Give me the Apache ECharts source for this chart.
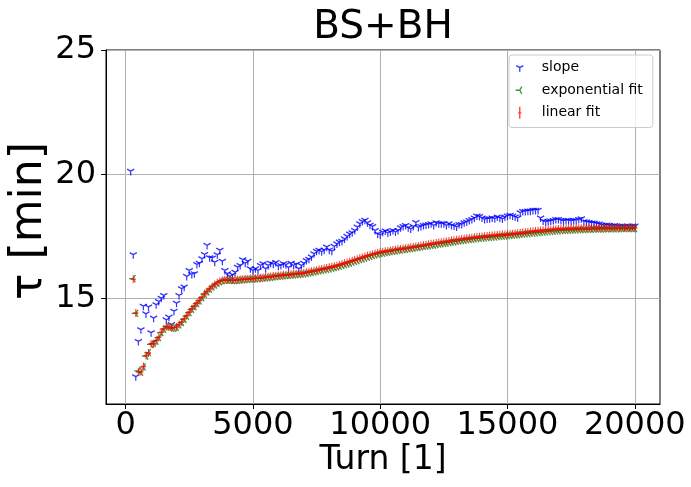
<!DOCTYPE html>
<html>
<head>
<meta charset="utf-8">
<script src="https://cdn.jsdelivr.net/npm/echarts@6.0.0/dist/echarts.min.js"></script>
<style>
  html, body { margin: 0; padding: 0; background: #fff; }
  #chart { width: 691px; height: 487px; }
</style>
</head>
<body>
<div id="chart"></div>
<script>
// turns: 200, 300, ... 20000 (one sample every 100 turns)
var turnStart = 200;
var turnStep = 100;

var slope = [
    20.12, 16.76, 11.85, 13.27, 13.74, 14.69, 14.38, 14.66,
    13.62, 14.21, 14.75, 14.88, 15.01, 15.12, 14.14, 14.25, 13.95, 14.49,
    14.81, 15.12, 15.39, 15.46, 15.89, 16.13, 15.97, 16.0, 16.37, 16.42,
    16.6, 16.77, 17.14, 16.64, 16.63, 16.46, 16.76, 16.94, 16.5, 16.13,
    16.0, 15.89, 15.95, 16.06, 16.26, 16.33, 16.56, 16.42, 16.5, 16.2,
    16.13, 16.2, 16.13, 16.33, 16.4, 16.2, 16.33, 16.42, 16.38, 16.45,
    16.3, 16.33, 16.4, 16.36, 16.25, 16.42, 16.33, 16.38, 16.2, 16.33,
    16.42, 16.53, 16.58, 16.67, 16.8, 16.9, 16.94, 16.88, 16.95, 17.07,
    16.95, 16.9, 17.1, 17.2, 17.27, 17.3, 17.4, 17.5, 17.6, 17.65,
    17.74, 17.88, 18.01, 18.1, 18.15, 18.05, 17.95, 17.9, 17.74, 17.6,
    17.56, 17.67, 17.72, 17.64, 17.68, 17.74, 17.68, 17.74, 17.85, 17.9,
    17.94, 17.85, 17.8, 17.9, 18.06, 17.86, 17.9, 17.94, 17.96, 17.98,
    18.01, 17.94, 18.05, 18.01, 18.01, 18.01, 17.94, 18.01, 17.94, 17.92,
    17.88, 17.98, 17.98, 18.05, 18.08, 18.14, 18.18, 18.24, 18.32, 18.3,
    18.24, 18.18, 18.2, 18.21, 18.24, 18.21, 18.28, 18.24, 18.2, 18.28,
    18.32, 18.35, 18.32, 18.28, 18.24, 18.45, 18.5, 18.5, 18.52, 18.52,
    18.55, 18.55, 18.55, 18.24, 18.12, 18.08, 18.1, 18.12, 18.14, 18.18,
    18.18, 18.14, 18.12, 18.14, 18.14, 18.12, 18.14, 18.14, 18.18, 18.21,
    18.1, 18.08, 18.06, 18.04, 18.04, 18.01, 18.0, 17.96, 17.94, 17.96,
    17.94, 17.92, 17.94, 17.92, 17.9, 17.92, 17.9, 17.92, 17.9, 17.92,
    17.92
];

var expFit = [
    null, 15.8, 14.4, 12.08, 12.03, 12.24, 12.68, 12.82,
    13.15, 13.19, 13.28, 13.42, 13.62, 13.76, 13.86, 13.84, 13.8, 13.8,
    13.83, 13.93, 14.03, 14.16, 14.29, 14.43, 14.56, 14.67, 14.79, 14.9,
    15.03, 15.17, 15.26, 15.37, 15.46, 15.54, 15.61, 15.67, 15.71, 15.73,
    15.73, 15.72, 15.72, 15.72, 15.73, 15.74, 15.75, 15.76, 15.77, 15.78,
    15.78, 15.79, 15.8, 15.81, 15.82, 15.83, 15.84, 15.85, 15.87, 15.88,
    15.89, 15.9, 15.91, 15.92, 15.93, 15.94, 15.95, 15.96, 15.97, 15.98,
    15.99, 16.01, 16.03, 16.05, 16.07, 16.09, 16.11, 16.13, 16.15, 16.17,
    16.19, 16.22, 16.24, 16.27, 16.3, 16.33, 16.36, 16.39, 16.42, 16.46,
    16.49, 16.52, 16.56, 16.59, 16.62, 16.66, 16.69, 16.72, 16.75, 16.78,
    16.8, 16.82, 16.84, 16.86, 16.88, 16.89, 16.91, 16.93, 16.94, 16.96,
    16.97, 16.99, 17.0, 17.02, 17.04, 17.05, 17.07, 17.09, 17.1, 17.12,
    17.14, 17.15, 17.17, 17.19, 17.2, 17.22, 17.23, 17.25, 17.27, 17.28,
    17.3, 17.31, 17.33, 17.34, 17.36, 17.37, 17.38, 17.4, 17.41, 17.42,
    17.43, 17.44, 17.45, 17.46, 17.47, 17.48, 17.49, 17.5, 17.51, 17.52,
    17.53, 17.54, 17.55, 17.56, 17.57, 17.58, 17.59, 17.6, 17.61, 17.62,
    17.63, 17.64, 17.65, 17.66, 17.67, 17.68, 17.69, 17.7, 17.71, 17.72,
    17.72, 17.73, 17.74, 17.74, 17.75, 17.75, 17.76, 17.76, 17.77, 17.77,
    17.77, 17.78, 17.78, 17.78, 17.79, 17.79, 17.79, 17.79, 17.8, 17.8,
    17.8, 17.8, 17.8, 17.8, 17.81, 17.81, 17.81, 17.81, 17.81, 17.81,
    17.81
];

var linFit = [
    null, 15.77, 14.41, 12.05, 12.05, 12.26, 12.7, 12.8,
    13.17, 13.17, 13.3, 13.44, 13.64, 13.78, 13.87, 13.85, 13.82, 13.82,
    13.85, 13.95, 14.05, 14.18, 14.31, 14.45, 14.58, 14.69, 14.81, 14.92,
    15.05, 15.19, 15.28, 15.39, 15.48, 15.56, 15.63, 15.69, 15.73, 15.75,
    15.75, 15.74, 15.74, 15.74, 15.75, 15.76, 15.77, 15.78, 15.79, 15.8,
    15.8, 15.81, 15.82, 15.83, 15.84, 15.86, 15.87, 15.88, 15.9, 15.91,
    15.92, 15.93, 15.95, 15.95, 15.96, 15.97, 15.98, 15.99, 16.0, 16.01,
    16.03, 16.05, 16.07, 16.09, 16.11, 16.13, 16.16, 16.18, 16.2, 16.22,
    16.25, 16.27, 16.3, 16.32, 16.35, 16.39, 16.42, 16.45, 16.48, 16.52,
    16.55, 16.58, 16.62, 16.65, 16.69, 16.72, 16.75, 16.78, 16.81, 16.84,
    16.86, 16.88, 16.9, 16.91, 16.93, 16.95, 16.96, 16.98, 16.99, 17.01,
    17.02, 17.04, 17.06, 17.07, 17.09, 17.1, 17.12, 17.14, 17.16, 17.18,
    17.2, 17.21, 17.23, 17.25, 17.26, 17.28, 17.29, 17.31, 17.33, 17.34,
    17.36, 17.37, 17.39, 17.4, 17.42, 17.43, 17.44, 17.46, 17.47, 17.48,
    17.49, 17.5, 17.51, 17.52, 17.53, 17.54, 17.55, 17.56, 17.57, 17.57,
    17.58, 17.59, 17.6, 17.61, 17.62, 17.63, 17.65, 17.66, 17.67, 17.69,
    17.7, 17.71, 17.72, 17.73, 17.74, 17.75, 17.76, 17.77, 17.77, 17.78,
    17.79, 17.79, 17.8, 17.8, 17.81, 17.81, 17.81, 17.82, 17.82, 17.82,
    17.82, 17.82, 17.82, 17.83, 17.83, 17.83, 17.83, 17.83, 17.83, 17.83,
    17.83, 17.83, 17.84, 17.84, 17.84, 17.84, 17.84, 17.84, 17.84, 17.84,
    17.84
];

var xTicks = [0, 5000, 10000, 15000, 20000];
var yTicks = [15, 20, 25];

var FONT = '"DejaVu Sans", Verdana, sans-serif';

// marker shapes (matplotlib tri_down, tri_left, errorbar-like tick)
var TRI_DOWN = 'path://M0,0L0,10M0,0L-8.66,-5M0,0L8.66,-5M0,-10';
var TRI_LEFT = 'path://M0,0L-10,0M0,0L5,-8.66M0,0L5,8.66M10,0';
var VBAR = 'path://M0,-4L0,4M-2.5,0L2.5,0';
// same shapes padded so the legend box does not blow them up
var TRI_DOWN_LEG = TRI_DOWN + 'M0,-17M0,17';
var TRI_LEFT_LEG = TRI_LEFT + 'M0,-17M0,17';
var VBAR_LEG = 'path://M0,-6L0,6M-1.5,0L1.5,0M0,-7M0,7';

function pairs(values) {
    var out = [];
    for (var i = 0; i < values.length; i++) {
        if (values[i] == null) continue;
        out.push([turnStart + turnStep * i, values[i]]);
    }
    return out;
}

var chart = echarts.init(document.getElementById('chart'), null, {renderer: 'canvas'});

chart.setOption({
    animation: false,
    textStyle: { fontFamily: FONT },

    graphic: [{
        type: 'text',
        x: 383,
        y: 28,
        style: {
            text: 'BS+BH',
            fontSize: 39,
            fontFamily: FONT,
            fill: '#000',
            align: 'center',
            verticalAlign: 'middle'
        }
    }],

    grid: {
        left: 106,
        right: 31,
        top: 50,
        bottom: 83,
        outerBoundsMode: 'none',
        show: true,
        borderColor: '#000',
        borderWidth: 1,
        backgroundColor: 'transparent'
    },

    legend: {
        orient: 'vertical',
        left: 509,
        top: 55,
        padding: [5, 10, 7, 6],
        itemWidth: 34,
        itemHeight: 14,
        itemGap: 7.3,
        backgroundColor: 'rgba(255,255,255,0.8)',
        borderColor: '#cccccc',
        borderWidth: 1,
        borderRadius: 3,
        textStyle: { fontSize: 14, fontFamily: FONT, color: '#000' },
        itemStyle: { borderWidth: 1.3 },
        data: [
            { name: 'slope', icon: TRI_DOWN_LEG },
            { name: 'exponential fit', icon: TRI_LEFT_LEG },
            { name: 'linear fit', icon: VBAR_LEG }
        ]
    },

    xAxis: {
        type: 'value',
        min: -770,
        max: 20990,
        name: 'Turn [1]',
        nameLocation: 'middle',
        nameGap: 40,
        nameMoveOverlap: false,
        nameTextStyle: { fontSize: 33, fontFamily: FONT, color: '#000' },
        axisLine: { show: true, onZero: false, lineStyle: { color: '#000', width: 1 } },
        axisTick: { show: true, length: 5, lineStyle: { color: '#000' }, customValues: xTicks },
        axisLabel: {
            fontSize: 32, fontFamily: FONT, color: '#000', margin: 6, customValues: xTicks,
            formatter: function (v) { return String(v); }
        },
        splitLine: { show: true, lineStyle: { color: '#b0b0b0', width: 1 } }
    },

    yAxis: {
        type: 'value',
        min: 10.75,
        max: 25,
        name: 'τ [min]',
        nameLocation: 'middle',
        nameRotate: 90,
        nameGap: 54,
        nameMoveOverlap: false,
        nameTextStyle: { fontSize: 44, fontFamily: FONT, color: '#000', padding: [0, 0, 0, 12] },
        axisLine: { show: true, onZero: false, lineStyle: { color: '#000', width: 1 } },
        axisTick: { show: true, length: 5, lineStyle: { color: '#000' }, customValues: yTicks },
        axisLabel: {
            fontSize: 32, fontFamily: FONT, color: '#000', margin: 10, customValues: yTicks,
            formatter: function (v) { return String(v); }
        },
        splitLine: { show: true, lineStyle: { color: '#b0b0b0', width: 1 } }
    },

    series: [{
        name: 'slope',
        type: 'scatter',
        symbol: TRI_DOWN,
        symbolSize: [7.2, 8.3],
        itemStyle: { color: '#0000ff', borderColor: '#0000ff', borderWidth: 1.3 },
        data: pairs(slope)
    }, {
        name: 'exponential fit',
        type: 'scatter',
        symbol: TRI_LEFT,
        symbolSize: [8.3, 7.2],
        itemStyle: { color: '#008000', borderColor: '#008000', borderWidth: 1.3 },
        data: pairs(expFit)
    }, {
        name: 'linear fit',
        type: 'scatter',
        symbol: VBAR,
        symbolSize: [5, 8],
        itemStyle: { color: '#ff0000', borderColor: '#ff0000', borderWidth: 1.3 },
        data: pairs(linFit)
    }]
});
</script>
</body>
</html>
